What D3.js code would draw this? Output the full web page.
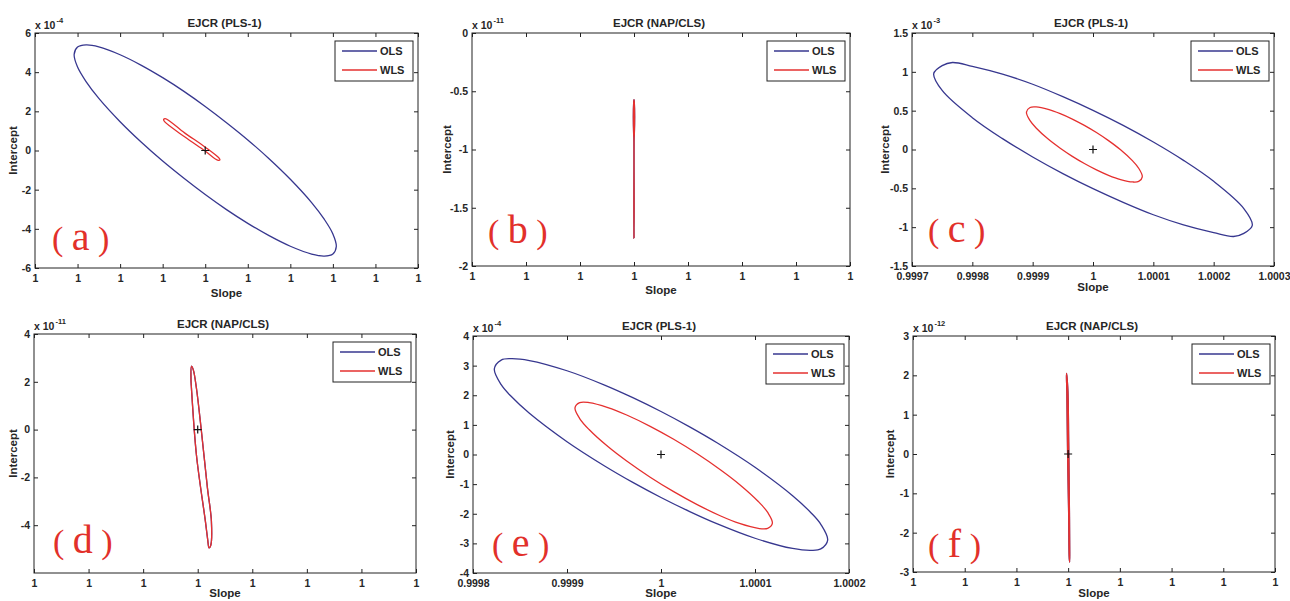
<!DOCTYPE html>
<html><head><meta charset="utf-8">
<script src="https://cdn.jsdelivr.net/npm/d3@7"></script>
<style>
html,body{margin:0;padding:0;background:#fff;overflow:hidden}
svg{display:block;background:#fff}
text{font-family:"Liberation Sans",Arial,Helvetica,sans-serif;fill:#262626;font-weight:bold}
.tick text{font-size:10.5px}
.title{font-size:11.5px}
.alabel{font-size:11.5px}
.expo{font-size:10.5px}
.sup{font-size:7.5px}
.leg{font-size:11px}
.tag{font-family:"Liberation Serif","DejaVu Serif",serif;font-weight:normal;fill:#e2302a}
</style></head><body>
<svg id="chart" width="1290" height="601"></svg>
<script>
// ---------------- DATA ----------------
const panelTags = ["a", "b", "c", "d", "e", "f"];
const titles = ["EJCR (PLS-1)", "EJCR (NAP/CLS)", "EJCR (PLS-1)", "EJCR (NAP/CLS)", "EJCR (PLS-1)", "EJCR (NAP/CLS)"];
const yExponents = ["-4", "-11", "-3", "-11", "-4", "-12"];
const seriesNames = ["OLS", "WLS"];
const xAxisTitle = "Slope";
const yAxisTitle = "Intercept";

// x ticks (positions in tick units) and their labels
const xTicksA = [-4, -3, -2, -1, 0, 1, 2, 3, 4, 5];
const xLabelsA = ["1", "1", "1", "1", "1", "1", "1", "1", "1", "1"];
const xTicksB = [-3, -2, -1, 0, 1, 2, 3, 4];
const xLabelsB = ["1", "1", "1", "1", "1", "1", "1", "1"];
const xTicksC = [-3, -2, -1, 0, 1, 2, 3];
const xLabelsC = ["0.9997", "0.9998", "0.9999", "1", "1.0001", "1.0002", "1.0003"];
const xTicksD = [-3, -2, -1, 0, 1, 2, 3, 4];
const xLabelsD = ["1", "1", "1", "1", "1", "1", "1", "1"];
const xTicksE = [-2, -1, 0, 1, 2];
const xLabelsE = ["0.9998", "0.9999", "1", "1.0001", "1.0002"];
const xTicksF = [-3, -2, -1, 0, 1, 2, 3, 4];
const xLabelsF = ["1", "1", "1", "1", "1", "1", "1", "1"];

// y ticks and labels (values in units of 10^exponent)
const yTicksA = [-6, -4, -2, 0, 2, 4, 6];
const yLabelsA = ["-6", "-4", "-2", "0", "2", "4", "6"];
const yTicksB = [-2, -1.5, -1, -0.5, 0];
const yLabelsB = ["-2", "-1.5", "-1", "-0.5", "0"];
const yTicksC = [-1.5, -1, -0.5, 0, 0.5, 1, 1.5];
const yLabelsC = ["-1.5", "-1", "-0.5", "0", "0.5", "1", "1.5"];
const yTicksD = [-4, -2, 0, 2, 4];
const yLabelsD = ["-4", "-2", "0", "2", "4"];
const yTicksE = [-4, -3, -2, -1, 0, 1, 2, 3, 4];
const yLabelsE = ["-4", "-3", "-2", "-1", "0", "1", "2", "3", "4"];
const yTicksF = [-3, -2, -1, 0, 1, 2, 3];
const yLabelsF = ["-3", "-2", "-1", "0", "1", "2", "3"];

const xDomainA = [-4, 5], yDomainA = [-6, 6];
const xDomainB = [-3, 4], yDomainB = [-2, 0];
const xDomainC = [-3, 3], yDomainC = [-1.5, 1.5];
const xDomainD = [-3, 4], yDomainD = [-6, 4];
const xDomainE = [-2, 2], yDomainE = [-4, 4];
const xDomainF = [-3, 4], yDomainF = [-3, 3];

// joint-confidence-region contours: [slope, intercept]
const olsA = [[-3.08,4.9],[-3.0,5.28],[-2.8,5.39],[-2.5,5.29],[-2.0,4.89],[-1.5,4.35],[-1.0,3.72],[-0.5,3.02],[0,2.25],[0.5,1.42],[1.0,0.54],[1.5,-0.42],[2.0,-1.47],[2.5,-2.66],[2.8,-3.52],[3.0,-4.26],[3.08,-4.9],[3.0,-5.28],[2.8,-5.39],[2.5,-5.29],[2.0,-4.89],[1.5,-4.35],[1.0,-3.72],[0.5,-3.02],[0,-2.25],[-0.5,-1.42],[-1.0,-0.54],[-1.5,0.42],[-2.0,1.47],[-2.5,2.66],[-2.8,3.52],[-3.0,4.26]];
const wlsA = [[-0.978,1.58],[-0.94,1.63],[-0.485,0.90],[0,0.17],[0.33,-0.40],[0.345,-0.48],[0.29,-0.49],[0,-0.03],[-0.485,0.70],[-0.955,1.47]];

const olsB = [[0,-0.573],[0.006,-0.6],[0.006,-0.87],[0.002,-0.9],[0.002,-1.5],[0,-1.76],[-0.002,-1.5],[-0.002,-0.9],[-0.006,-0.87],[-0.006,-0.6]];
const wlsB = [[0,-0.573],[0.006,-0.6],[0.006,-0.87],[0.002,-0.9],[0.002,-1.5],[0,-1.76],[-0.002,-1.5],[-0.002,-0.9],[-0.006,-0.87],[-0.006,-0.6]];

const olsC = [[-2.64,0.977],[-2.5,1.08],[-2.33,1.12],[-2.0,1.07],[-1.5,0.97],[-1.0,0.84],[-0.5,0.68],[0,0.504],[0.5,0.31],[1.0,0.096],[1.5,-0.14],[2.0,-0.41],[2.5,-0.76],[2.64,-0.977],[2.5,-1.08],[2.33,-1.12],[2.0,-1.07],[1.5,-0.97],[1.0,-0.84],[0.5,-0.68],[0,-0.504],[-0.5,-0.31],[-1.0,-0.096],[-1.5,0.14],[-2.0,0.41],[-2.5,0.76]];
const wlsC = [[-1.103,0.482],[-1.043,0.541],[-0.943,0.548],[-0.743,0.517],[-0.543,0.462],[-0.343,0.392],[-0.143,0.31],[0.057,0.218],[0.257,0.114],[0.457,-0.004],[0.657,-0.147],[0.757,-0.241],[0.817,-0.352],[0.757,-0.411],[0.657,-0.418],[0.457,-0.387],[0.257,-0.332],[0.057,-0.262],[-0.143,-0.18],[-0.343,-0.088],[-0.543,0.016],[-0.743,0.134],[-0.943,0.277],[-1.043,0.371]];

const olsD = [[-0.115,2.65],[-0.123,2.09],[-0.115,1.74],[-0.024,-1.05],[0.141,-3.84],[0.183,-4.6],[0.207,-4.95],[0.238,-4.85],[0.251,-3.84],[0.178,-2.44],[0.068,-0.07],[-0.024,1.74],[-0.082,2.51]];
const wlsD = [[-0.115,2.65],[-0.123,2.09],[-0.115,1.74],[-0.024,-1.05],[0.141,-3.84],[0.183,-4.6],[0.207,-4.95],[0.238,-4.85],[0.251,-3.84],[0.178,-2.44],[0.068,-0.07],[-0.024,1.74],[-0.082,2.51]];

const olsE = [[-1.773,2.89],[-1.7,3.186],[-1.6,3.234],[-1.4,3.172],[-1.0,2.827],[-0.6,2.343],[-0.3,1.918],[0,1.45],[0.3,0.94],[0.6,0.386],[1.0,-0.433],[1.4,-1.392],[1.6,-1.981],[1.7,-2.356],[1.773,-2.89],[1.7,-3.186],[1.6,-3.234],[1.4,-3.172],[1.0,-2.827],[0.6,-2.343],[0.3,-1.918],[0,-1.45],[-0.3,-0.94],[-0.6,-0.386],[-1.0,0.433],[-1.4,1.392],[-1.6,1.981],[-1.7,2.356]];
const wlsE = [[-0.915,1.575],[-0.865,1.751],[-0.765,1.752],[-0.565,1.585],[-0.365,1.333],[-0.115,0.951],[0.135,0.513],[0.385,0.024],[0.635,-0.521],[0.835,-1.009],[1.035,-1.584],[1.135,-1.956],[1.185,-2.317],[1.135,-2.493],[1.035,-2.494],[0.835,-2.327],[0.635,-2.075],[0.385,-1.693],[0.135,-1.255],[-0.115,-0.766],[-0.365,-0.221],[-0.565,0.267],[-0.765,0.842],[-0.865,1.214]];

const olsF = [[-0.03,2.05],[-0.005,1.6],[0.01,0.3],[0.025,-1.5],[0.03,-2.5],[0.028,-2.75],[0.02,-2.6],[0.01,-1.5],[-0.01,0],[-0.025,1.6],[-0.032,1.95]];
const wlsF = [[-0.03,2.05],[-0.005,1.6],[0.01,0.3],[0.025,-1.5],[0.03,-2.5],[0.028,-2.75],[0.02,-2.6],[0.01,-1.5],[-0.01,0],[-0.025,1.6],[-0.032,1.95]];

// estimate markers (+)
const centers = [[0, 0], null, [0, 0], [0, 0], [0, 0], [0, 0]];

// ---------------- LAYOUT / STYLE ----------------
const frames = [
  {l: 35, t: 33, r: 418, b: 268},
  {l: 472, t: 33, r: 850, b: 266},
  {l: 912, t: 33, r: 1274, b: 266},
  {l: 34, t: 334, r: 416, b: 573},
  {l: 473, t: 336, r: 849, b: 573},
  {l: 913, t: 336, r: 1275, b: 572}
];
const ylabOffset = [22, 25, 27, 21, 23, 23];
const xlabOffset = [29, 28, 25, 24, 24, 25];
const tagPos = [[17, 18], [16, 23], [16, 24], [19, 20], [19, 17], [15, 15]];
const colors = {OLS: "#37378f", WLS: "#e5302f"};

const panels = [
  {xd: xDomainA, yd: yDomainA, xt: xTicksA, xl: xLabelsA, yt: yTicksA, yl: yLabelsA, ols: olsA, wls: wlsA},
  {xd: xDomainB, yd: yDomainB, xt: xTicksB, xl: xLabelsB, yt: yTicksB, yl: yLabelsB, ols: olsB, wls: wlsB},
  {xd: xDomainC, yd: yDomainC, xt: xTicksC, xl: xLabelsC, yt: yTicksC, yl: yLabelsC, ols: olsC, wls: wlsC},
  {xd: xDomainD, yd: yDomainD, xt: xTicksD, xl: xLabelsD, yt: yTicksD, yl: yLabelsD, ols: olsD, wls: wlsD},
  {xd: xDomainE, yd: yDomainE, xt: xTicksE, xl: xLabelsE, yt: yTicksE, yl: yLabelsE, ols: olsE, wls: wlsE},
  {xd: xDomainF, yd: yDomainF, xt: xTicksF, xl: xLabelsF, yt: yTicksF, yl: yLabelsF, ols: olsF, wls: wlsF}
];

const svg = d3.select("#chart");

panels.forEach((p, i) => {
  const f = frames[i];
  const g = svg.append("g");
  const x = d3.scaleLinear().domain(p.xd).range([f.l, f.r]);
  const y = d3.scaleLinear().domain(p.yd).range([f.b, f.t]);

  // axes with inward ticks on all four sides
  const clean = s => s.select(".domain").remove();
  g.append("g").attr("transform", `translate(0,${f.b})`)
    .call(d3.axisBottom(x).tickValues(p.xt).tickFormat((d, k) => p.xl[k]).tickSizeInner(-4).tickSizeOuter(0).tickPadding(7))
    .call(clean);
  g.append("g").attr("transform", `translate(0,${f.t})`)
    .call(d3.axisTop(x).tickValues(p.xt).tickFormat("").tickSizeInner(-4).tickSizeOuter(0))
    .call(clean);
  g.append("g").attr("transform", `translate(${f.l},0)`)
    .call(d3.axisLeft(y).tickValues(p.yt).tickFormat((d, k) => p.yl[k]).tickSizeInner(-4).tickSizeOuter(0).tickPadding(4))
    .call(clean);
  g.append("g").attr("transform", `translate(${f.r},0)`)
    .call(d3.axisRight(y).tickValues(p.yt).tickFormat("").tickSizeInner(-4).tickSizeOuter(0))
    .call(clean);
  g.selectAll(".tick line").attr("stroke", "#222");

  // box
  g.append("rect").attr("x", f.l).attr("y", f.t).attr("width", f.r - f.l).attr("height", f.b - f.t)
    .attr("fill", "none").attr("stroke", "#222").attr("stroke-width", 1);

  // contours
  const line = d3.line().x(d => x(d[0])).y(d => y(d[1])).curve(d3.curveCatmullRomClosed.alpha(0.5));
  g.append("path").datum(p.ols).attr("d", line).attr("fill", "none")
    .attr("stroke", colors.OLS).attr("stroke-width", 1.3);
  g.append("path").datum(p.wls).attr("d", line).attr("fill", "none")
    .attr("stroke", colors.WLS).attr("stroke-width", 1.3);

  // estimate marker
  const c = centers[i];
  if (c) {
    const cx = x(c[0]), cy = y(c[1]);
    g.append("path").attr("d", `M${cx - 4},${cy}H${cx + 4}M${cx},${cy - 4}V${cy + 4}`)
      .attr("stroke", "#111").attr("stroke-width", 1.2).attr("fill", "none");
  }

  // title
  g.append("text").attr("class", "title").attr("x", (f.l + f.r) / 2 - 2).attr("y", f.t - 6)
    .attr("text-anchor", "middle").text(titles[i]);
  // exponent
  const ex = g.append("text").attr("class", "expo").attr("x", f.l).attr("y", f.t - 4);
  ex.append("tspan").text("x 10");
  ex.append("tspan").attr("class", "sup").attr("dy", -6).attr("dx", 1).text(yExponents[i]);
  // axis titles
  g.append("text").attr("class", "alabel").attr("x", (f.l + f.r) / 2).attr("y", f.b + xlabOffset[i])
    .attr("text-anchor", "middle").text(xAxisTitle);
  g.append("text").attr("class", "alabel")
    .attr("transform", `translate(${f.l - ylabOffset[i] + 4},${(f.t + f.b) / 2}) rotate(-90)`)
    .attr("text-anchor", "middle").text(yAxisTitle);

  // legend
  const lw = 78, lh = 40;
  const lx = f.r - 5 - lw, ly = f.t + 8;
  const lg = g.append("g");
  lg.append("rect").attr("x", lx).attr("y", ly).attr("width", lw).attr("height", lh)
    .attr("fill", "#fff").attr("stroke", "#222").attr("stroke-width", 1);
  seriesNames.forEach((s, k) => {
    const yy = ly + 10 + k * 19;
    lg.append("line").attr("x1", lx + 7).attr("x2", lx + 42).attr("y1", yy).attr("y2", yy)
      .attr("stroke", colors[s]).attr("stroke-width", 1.3);
    lg.append("text").attr("class", "leg").attr("x", lx + 45).attr("y", yy + 4).text(s);
  });

  // panel tag
  const t = g.append("text").attr("class", "tag").attr("x", f.l + tagPos[i][0]).attr("y", f.b - tagPos[i][1]);
  t.append("tspan").attr("font-size", 34).text("(");
  t.append("tspan").attr("font-size", 34).text(" ");
  t.append("tspan").attr("font-size", 40).text(panelTags[i]);
  t.append("tspan").attr("font-size", 34).text(" ");
  t.append("tspan").attr("font-size", 34).text(")");
});
</script></body></html>
